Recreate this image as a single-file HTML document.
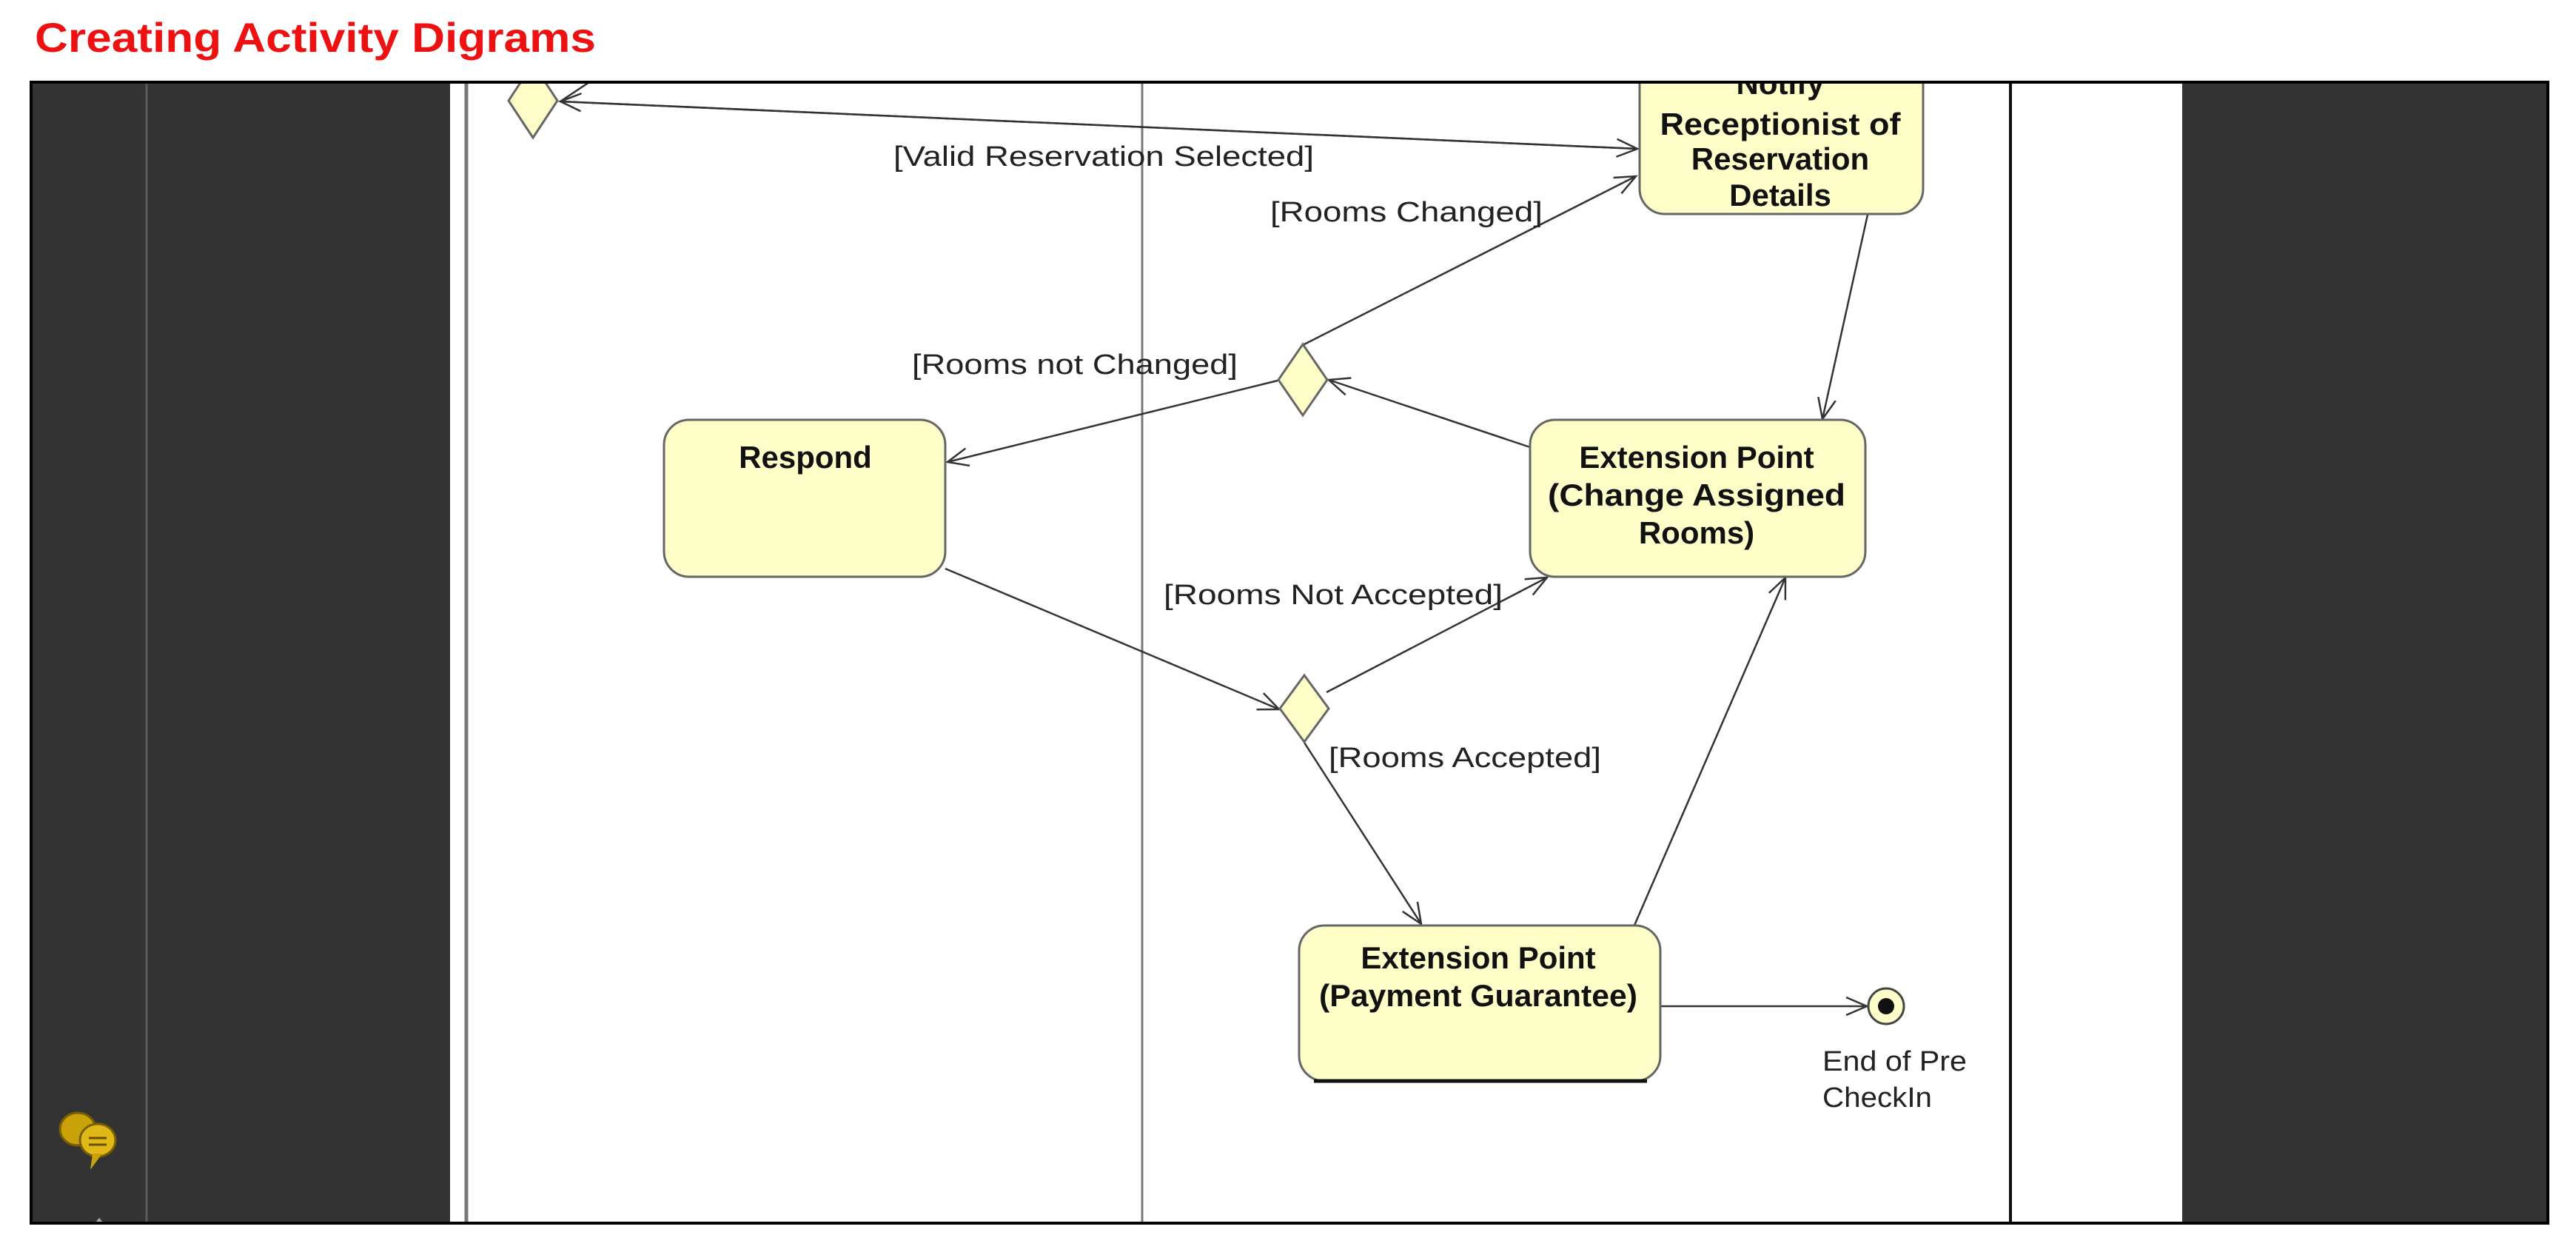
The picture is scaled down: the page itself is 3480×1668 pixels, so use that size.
<!DOCTYPE html>
<html><head><meta charset="utf-8"><style>
html,body{margin:0;padding:0;background:#fff;}
svg{display:block;}
</style></head><body>
<svg width="3480" height="1668" viewBox="0 0 3480 1668" xmlns="http://www.w3.org/2000/svg" font-family="Liberation Sans, Arial, sans-serif">
<defs>
<marker id="a" markerWidth="40" markerHeight="40" refX="30" refY="15" orient="auto" markerUnits="userSpaceOnUse">
<path d="M2,3 L30,15 L2,27" fill="none" stroke="#333" stroke-width="2.5"/>
</marker>
<clipPath id="c"><rect x="42" y="112" width="3400" height="1540"/></clipPath>
</defs>
<rect width="3480" height="1668" fill="#fff"/>
<text x="47" y="70" font-size="56" font-weight="bold" fill="#ee1111" textLength="758" lengthAdjust="spacingAndGlyphs">Creating Activity Digrams</text>
<g clip-path="url(#c)">
<rect x="42" y="112" width="566" height="1540" fill="#333"/>
<line x1="198" y1="112" x2="198" y2="1652" stroke="#5a5a5a" stroke-width="3"/>
<rect x="2948" y="112" width="496" height="1540" fill="#333"/>
<line x1="630" y1="112" x2="630" y2="1652" stroke="#777" stroke-width="5"/>
<line x1="1543" y1="112" x2="1543" y2="1652" stroke="#777" stroke-width="3"/>
<line x1="2716" y1="112" x2="2716" y2="1652" stroke="#111" stroke-width="4"/>

<g stroke="#333" stroke-width="2.5" fill="none">
<line x1="2212" y1="201" x2="757" y2="137" marker-end="url(#a)"/>
<line x1="757" y1="137" x2="2212" y2="201" marker-end="url(#a)"/>
<line x1="757" y1="137" x2="820" y2="95"/>
<line x1="1760" y1="466" x2="2210" y2="238" marker-end="url(#a)"/>
<line x1="2523" y1="290" x2="2462" y2="566" marker-end="url(#a)"/>
<line x1="2067" y1="604" x2="1795" y2="513" marker-end="url(#a)"/>
<line x1="1726" y1="514" x2="1280" y2="624" marker-end="url(#a)"/>
<line x1="1277" y1="768" x2="1728" y2="958" marker-end="url(#a)"/>
<line x1="1792" y1="935" x2="2090" y2="780" marker-end="url(#a)"/>
<line x1="1762" y1="1003" x2="1920" y2="1248" marker-end="url(#a)"/>
<line x1="2207" y1="1252" x2="2412" y2="780" marker-end="url(#a)"/>
<line x1="2243" y1="1359" x2="2522" y2="1359" marker-end="url(#a)"/>
</g>

<g fill="#fefec8" stroke="#666" stroke-width="3">
<polygon points="720,86 753,136 720,186 687,136"/>
<polygon points="1760,465 1793,513 1760,561 1727,513"/>
<polygon points="1762,912 1795,957 1762,1002 1729,957"/>
<rect x="2215" y="40" width="383" height="249" rx="34"/>
<rect x="897" y="567" width="380" height="212" rx="34"/>
<rect x="2067" y="567" width="453" height="212" rx="34"/>
<rect x="1755" y="1250" width="488" height="210" rx="34"/>
</g>
<line x1="1775" y1="1460" x2="2225" y2="1460" stroke="#111" stroke-width="5"/>
<circle cx="2548" cy="1359" r="24" fill="#fefec8" stroke="#444" stroke-width="3"/>
<circle cx="2548" cy="1359" r="11" fill="#111"/>

<g font-size="42" font-weight="bold" fill="#111" text-anchor="middle">
<text x="2405" y="127">Notify</text>
<text x="2405" y="182" textLength="325" lengthAdjust="spacingAndGlyphs">Receptionist of</text>
<text x="2405" y="229">Reservation</text>
<text x="2405" y="278">Details</text>
<text x="1088" y="632">Respond</text>
<text x="2292" y="632">Extension Point</text>
<text x="2292" y="683" textLength="402" lengthAdjust="spacingAndGlyphs">(Change Assigned</text>
<text x="2292" y="734">Rooms)</text>
<text x="1997" y="1308">Extension Point</text>
<text x="1997" y="1359" textLength="430" lengthAdjust="spacingAndGlyphs">(Payment Guarantee)</text>
</g>
<g font-size="38" fill="#222">
<text x="1207" y="224" textLength="568" lengthAdjust="spacingAndGlyphs">[Valid Reservation Selected]</text>
<text x="1716" y="299" textLength="368" lengthAdjust="spacingAndGlyphs">[Rooms Changed]</text>
<text x="1232" y="505" textLength="440" lengthAdjust="spacingAndGlyphs">[Rooms not Changed]</text>
<text x="1572" y="816" textLength="458" lengthAdjust="spacingAndGlyphs">[Rooms Not Accepted]</text>
<text x="1795" y="1036" textLength="368" lengthAdjust="spacingAndGlyphs">[Rooms Accepted]</text>
<text x="2462" y="1446" textLength="195" lengthAdjust="spacingAndGlyphs">End of Pre</text>
<text x="2462" y="1495" textLength="148" lengthAdjust="spacingAndGlyphs">CheckIn</text>
</g>

<g>
<ellipse cx="105" cy="1525" rx="24" ry="22" fill="#c9a20a" stroke="#7a5f00" stroke-width="3"/>
<ellipse cx="132" cy="1540" rx="24" ry="22" fill="#e0b818" stroke="#7a5f00" stroke-width="3"/>
<path d="M125 1558 L122 1580 L138 1558 Z" fill="#c9a20a"/>
<line x1="120" y1="1537" x2="144" y2="1537" stroke="#6a5000" stroke-width="3"/>
<line x1="120" y1="1546" x2="144" y2="1546" stroke="#6a5000" stroke-width="3"/>
<path d="M124 1660 L134 1648 L144 1660" fill="none" stroke="#aaa" stroke-width="4"/>
</g>
</g>
<rect x="42" y="111" width="3400" height="1541" fill="none" stroke="#000" stroke-width="4"/>
</svg>
</body></html>
